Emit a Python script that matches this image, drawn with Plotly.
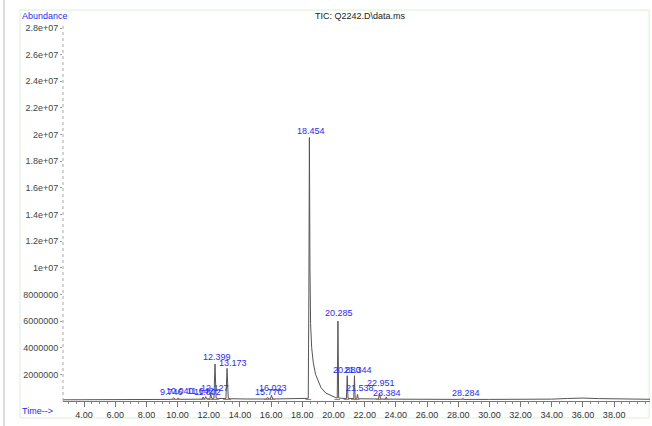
import plotly.graph_objects as go

# ---------------- data ----------------
trace_time = [2.65, 3.5, 5.0, 6.5, 8.0, 9.0, 9.65, 9.746, 9.84, 9.95, 10.040, 10.13,
              11.0, 11.58, 11.642, 11.70, 11.75, 11.802, 11.86, 12.07, 12.127, 12.20,
              12.33, 12.399, 12.47, 12.60, 13.10, 13.173, 13.25, 13.40, 14.5, 15.70,
              15.770, 15.84, 15.95, 16.023, 16.10, 17.0, 18.0, 18.38, 18.42, 18.454,
              18.49, 18.53, 18.60, 18.70, 18.85, 19.00, 19.20, 19.50, 19.90, 20.15,
              20.24, 20.285, 20.33, 20.50, 20.83, 20.880, 20.93, 21.10, 21.30, 21.344,
              21.39, 21.49, 21.538, 21.59, 22.0, 22.89, 22.951, 23.01, 23.33, 23.384,
              23.44, 24.5, 26.0, 28.20, 28.284, 28.37, 30.0, 32.0, 34.0, 35.0, 36.0,
              37.0, 38.0, 39.0, 40.3]
trace_abundance = [90000, 95000, 100000, 105000, 110000, 115000, 120000, 250000, 120000,
                   120000, 230000, 125000,
                   130000, 140000, 300000, 150000, 160000, 330000, 160000, 170000, 520000,
                   180000,
                   200000, 2780000, 220000, 190000, 190000, 2450000, 200000, 170000, 150000,
                   150000,
                   280000, 150000, 150000, 420000, 150000, 150000, 160000, 200000, 8000000,
                   19780000,
                   10000000, 5800000, 4000000, 2900000, 2000000, 1500000, 1000000, 600000,
                   350000, 250000,
                   230000, 6000000, 240000, 200000, 190000, 1900000, 200000, 190000,
                   180000, 1900000,
                   190000, 180000, 500000, 170000, 150000, 150000, 600000, 150000, 140000,
                   300000,
                   140000, 130000, 120000, 120000, 200000, 120000, 120000, 120000, 140000,
                   190000, 220000,
                   180000, 150000, 140000, 130000]

peak_times = [9.746, 10.040, 11.642, 11.802, 12.127, 12.399, 13.173, 15.770, 16.023,
              18.454, 20.285, 20.880, 21.344, 21.538, 22.951, 23.384, 28.284]
peak_heights = [250000, 230000, 300000, 330000, 520000, 2780000, 2450000, 280000, 420000,
                19780000, 6000000, 1900000, 1900000, 500000, 600000, 300000, 200000]
peak_labels = ["9.746", "10.040", "11.642", "11.802", "12.127", "12.399", "13.173",
               "15.770", "16.023", "18.454", "20.285", "20.880", "21.344", "21.538",
               "22.951", "23.384", "28.284"]

integration_marks = [9.70, 10.09, 11.60, 12.05, 12.33, 12.47, 13.10, 13.25, 15.72, 16.07,
                     18.38, 20.24, 20.83, 21.30, 21.49, 22.89, 23.33, 28.20]
integration_level = [120000] * len(integration_marks)

x_tick_vals = [4, 6, 8, 10, 12, 14, 16, 18, 20, 22, 24, 26, 28, 30, 32, 34, 36, 38]
y_tick_vals = [2e6, 4e6, 6e6, 8e6, 1e7, 1.2e7, 1.4e7, 1.6e7, 1.8e7, 2e7, 2.2e7, 2.4e7,
               2.6e7, 2.8e7]
y_tick_text = ["2000000", "4000000", "6000000", "8000000", "1e+07", "1.2e+07", "1.4e+07",
               "1.6e+07", "1.8e+07", "2e+07", "2.2e+07", "2.4e+07", "2.6e+07", "2.8e+07"]

# ---------------- styles (label pixel offsets) ----------------
label_shifts = [(-2, 6), (2, 7), (-3, 6), (2, 5), (4, 6), (2, 7), (6, 5), (1, 5), (1, 7),
                (2, 7), (1, 8), (0, 6), (4, 6), (3, 6), (1, 10), (1, 4), (3, 5)]

FONT = "Liberation Sans, Arial, sans-serif"
BLUE = "#2a2aff"

fig = go.Figure()
fig.add_trace(go.Scatter(x=trace_time, y=trace_abundance, mode="lines",
                         line=dict(color="#555555", width=1), hoverinfo="skip",
                         showlegend=False))
fig.add_trace(go.Scatter(x=integration_marks, y=integration_level, mode="markers",
                         marker=dict(symbol="line-ew-open", size=4,
                                     line=dict(color="#e05050", width=1)),
                         hoverinfo="skip", showlegend=False))

for t, h, lab, (dx, dy) in zip(peak_times, peak_heights, peak_labels, label_shifts):
    fig.add_annotation(x=t, y=h, text=lab, showarrow=False, xanchor="center",
                       yanchor="middle", xshift=dx, yshift=dy,
                       font=dict(family=FONT, size=9, color=BLUE))

fig.add_annotation(xref="paper", yref="paper", x=0.506, y=1.021, text="TIC: Q2242.D\\data.ms",
                   showarrow=False, xanchor="center", yanchor="middle",
                   font=dict(family=FONT, size=9, color="#222222"))
fig.add_annotation(xref="paper", yref="paper", x=-0.0733, y=1.021, text="Abundance",
                   showarrow=False, xanchor="left", yanchor="middle",
                   font=dict(family=FONT, size=9, color=BLUE))
fig.add_annotation(xref="paper", yref="paper", x=-0.0733, y=-0.0265, text="Time-->",
                   showarrow=False, xanchor="left", yanchor="middle",
                   font=dict(family=FONT, size=9, color=BLUE))

# frame and axis decorations
fig.add_shape(type="rect", xref="paper", yref="paper", x0=-0.0733, x1=0.9985,
              y0=-0.045, y1=1.037, line=dict(color="#d6f3d6", width=1), layer="below")
fig.add_shape(type="line", xref="paper", yref="paper", x0=-0.1005, x1=-0.1005,
              y0=-0.07, y1=1.064, line=dict(color="#dcdcdc", width=2))
fig.add_shape(type="line", xref="paper", yref="paper", x0=0, x1=0, y0=0, y1=1.0,
              line=dict(color="#a8a8a8", width=1, dash="dot"))

fig.update_layout(
    width=652, height=426,
    margin=dict(l=63, r=2, t=24, b=25),
    paper_bgcolor="white", plot_bgcolor="white",
    font=dict(family=FONT, size=9, color="#333333"),
    showlegend=False,
    xaxis=dict(range=[2.65, 40.3], tickvals=x_tick_vals, tickformat=".2f",
               showline=True, linecolor="#777777", linewidth=1, ticks="outside",
               ticklen=5, tickcolor="#777777", showgrid=False, zeroline=False,
               tickfont=dict(family=FONT, size=9, color="#333333"),
               minor=dict(dtick=0.5, ticks="outside", ticklen=2, tickcolor="#888888",
                          showgrid=False)),
    yaxis=dict(range=[0, 2.83e7], tickvals=y_tick_vals, ticktext=y_tick_text,
               showline=False, ticks="outside", ticklen=2, tickcolor="#999999",
               showgrid=False, zeroline=False,
               tickfont=dict(family=FONT, size=9, color="#444444")),
)

fig.write_html("out.html", config={"displayModeBar": False},
               post_script="document.body.style.margin='0';document.body.style.overflow='hidden';")
